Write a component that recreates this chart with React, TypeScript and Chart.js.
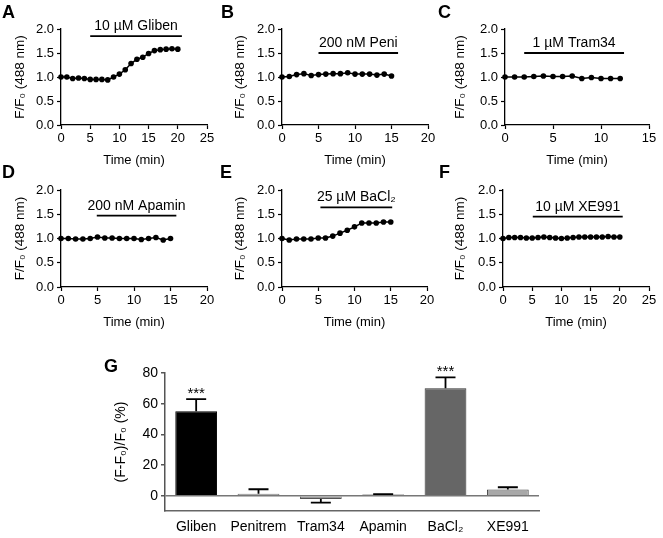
import React, { useEffect, useRef } from "react";
import { Chart, registerables } from "chart.js";
Chart.register(...registerables);

const FONT = "'Liberation Sans', Arial, Helvetica, sans-serif";

// ---------- Data: time courses (F/F0 at 488 nm) ----------
const timeA = [0, 1, 2, 3, 4, 5, 6, 7, 8, 9, 10, 11, 12, 13, 14, 15, 16, 17, 18, 19, 20];
const valueA = [1.0, 1.0, 0.97, 0.98, 0.97, 0.95, 0.95, 0.95, 0.94, 1.0, 1.06, 1.15, 1.28, 1.37, 1.41, 1.49, 1.55, 1.57, 1.58, 1.59, 1.58];

const timeB = [0, 1, 2, 3, 4, 5, 6, 7, 8, 9, 10, 11, 12, 13, 14, 15];
const valueB = [1.0, 1.01, 1.05, 1.07, 1.03, 1.05, 1.06, 1.07, 1.07, 1.09, 1.06, 1.06, 1.06, 1.04, 1.06, 1.02];

const timeC = [0, 1, 2, 3, 4, 5, 6, 7, 8, 9, 10, 11, 12];
const valueC = [1.0, 1.0, 1.0, 1.01, 1.02, 1.01, 1.01, 1.02, 0.97, 0.99, 0.97, 0.97, 0.97];

const timeD = [0, 1, 2, 3, 4, 5, 6, 7, 8, 9, 10, 11, 12, 13, 14, 15];
const valueD = [1.0, 1.0, 0.99, 0.99, 1.0, 1.03, 1.01, 1.01, 1.0, 1.0, 1.0, 0.98, 1.0, 1.02, 0.97, 1.0];

const timeE = [0, 1, 2, 3, 4, 5, 6, 7, 8, 9, 10, 11, 12, 13, 14, 15];
const valueE = [1.0, 0.97, 0.99, 0.99, 0.99, 1.01, 1.01, 1.05, 1.11, 1.17, 1.24, 1.32, 1.32, 1.32, 1.34, 1.34];

const timeF = [0, 1, 2, 3, 4, 5, 6, 7, 8, 9, 10, 11, 12, 13, 14, 15, 16, 17, 18, 19, 20];
const valueF = [1.0, 1.02, 1.02, 1.02, 1.01, 1.01, 1.02, 1.03, 1.02, 1.01, 1.0, 1.01, 1.02, 1.03, 1.03, 1.03, 1.03, 1.03, 1.04, 1.03, 1.03];

// x-axis maxima (min)
const xMaxes = [25, 20, 15, 20, 20, 25];

// drug application bars: label, start (min), end (min), level (F/F0)
const drugLabels = ["10 µM Gliben", "200 nM Peni", "1 µM Tram34", "200 nM Apamin", "25 µM BaCl₂", "10 µM XE991"];
const drugStart = [5, 5, 2, 4.9, 5.3, 5.1];
const drugEnd = [20.7, 15.9, 12.4, 15.8, 15.2, 20.5];
const drugLevel = [1.85, 1.5, 1.5, 1.47, 1.64, 1.45];

const traceYTicks = [0, 0.5, 1.0, 1.5, 2.0];

// ---------- Data: summary bar chart (G) ----------
const categoriesG = ["Gliben", "Penitrem", "Tram34", "Apamin", "BaCl₂", "XE991"];
const meansG = [55, 1.2, -2.2, 0.7, 70, 4];
const semG = [8, 3, 2.3, 0.3, 7.2, 1.5];
const sigG = ["***", "", "", "", "***", ""];
const barFill = ["#000000", "#9a9a9a", "#9a9a9a", "#222222", "#666666", "#a8a8a8"];
const barBorder = ["#000000", "#555555", "#555555", "#000000", "#333333", "#444444"];

// ---------- Layout (page pixels) ----------
type Box = { left: number; top: number; width: number; height: number };
type Area = { l: number; r: number; t: number; b: number };

const traceBoxes: Box[] = [
  { left: 0, top: 0, width: 220, height: 168 },
  { left: 220, top: 0, width: 220, height: 168 },
  { left: 440, top: 0, width: 223, height: 168 },
  { left: 0, top: 165, width: 220, height: 165 },
  { left: 220, top: 165, width: 220, height: 165 },
  { left: 440, top: 165, width: 223, height: 165 },
];
const traceAreas: Area[] = [
  { l: 61, r: 207, t: 29, b: 125 },
  { l: 282, r: 428, t: 29, b: 125 },
  { l: 505, r: 649, t: 29, b: 125 },
  { l: 61, r: 207, t: 190, b: 287 },
  { l: 282, r: 427, t: 190, b: 287 },
  { l: 503, r: 649, t: 190, b: 287 },
];
const boxG: Box = { left: 0, top: 336, width: 663, height: 202 };
const areaG: Area = { l: 165, r: 539, t: 373, b: 511 };

const letters = ["A", "B", "C", "D", "E", "F", "G"];
const letterPos = [
  { left: 2, top: 3 },
  { left: 221, top: 3 },
  { left: 438, top: 3 },
  { left: 2, top: 163 },
  { left: 220, top: 163 },
  { left: 439, top: 163 },
  { left: 104, top: 357 },
];

const traceTimes = [timeA, timeB, timeC, timeD, timeE, timeF];
const traceValues = [valueA, valueB, valueC, valueD, valueE, valueF];

// ---------- Plugins ----------
const drugBarPlugin = {
  id: "drugBar",
  afterDatasetsDraw(chart: any, _args: any, opts: any) {
    if (!opts || !opts.text) return;
    const { ctx } = chart;
    const x = chart.scales.x;
    const y = chart.scales.y;
    const x0 = x.getPixelForValue(opts.start);
    const x1 = x.getPixelForValue(opts.end);
    const yy = y.getPixelForValue(opts.level);
    ctx.save();
    ctx.strokeStyle = "#000";
    ctx.lineWidth = 1.8;
    ctx.beginPath();
    ctx.moveTo(x0, yy);
    ctx.lineTo(x1, yy);
    ctx.stroke();
    ctx.font = `14px ${FONT}`;
    ctx.fillStyle = "#000";
    ctx.textAlign = "center";
    ctx.textBaseline = "alphabetic";
    ctx.fillText(opts.text, (x0 + x1) / 2, yy - 6);
    ctx.restore();
  },
};

const errorBarPlugin = {
  id: "errorBars",
  afterDatasetsDraw(chart: any, _args: any, opts: any) {
    const meta = chart.getDatasetMeta(0);
    const y = chart.scales.y;
    const { ctx } = chart;
    ctx.save();
    meta.data.forEach((bar: any, i: number) => {
      const m = opts.means[i];
      const e = opts.errors[i];
      const dir = m >= 0 ? 1 : -1;
      const yv = y.getPixelForValue(m);
      const ye = y.getPixelForValue(m + dir * e);
      ctx.strokeStyle = "#000";
      ctx.lineWidth = 1.8;
      ctx.beginPath();
      ctx.moveTo(bar.x, yv);
      ctx.lineTo(bar.x, ye);
      ctx.moveTo(bar.x - 10, ye);
      ctx.lineTo(bar.x + 10, ye);
      ctx.stroke();
      const s = opts.sig[i];
      if (s) {
        ctx.font = `15px ${FONT}`;
        ctx.fillStyle = "#000";
        ctx.textAlign = "center";
        ctx.textBaseline = "alphabetic";
        ctx.fillText(s, bar.x, ye - 1);
      }
    });
    ctx.restore();
  },
};

function traceConfig(i: number): any {
  const box = traceBoxes[i];
  const area = traceAreas[i];
  const times = traceTimes[i];
  const vals = traceValues[i];
  const axisGrid = {
    drawOnChartArea: false,
    drawTicks: true,
    tickLength: 4,
    tickColor: "#000",
    tickWidth: 1.2,
  };
  return {
    type: "line",
    data: {
      datasets: [
        {
          data: times.map((t, k) => ({ x: t, y: vals[k] })),
          borderColor: "#000",
          backgroundColor: "#000",
          borderWidth: 1.5,
          pointRadius: 2.8,
          pointBorderWidth: 0,
          pointBackgroundColor: "#000",
          tension: 0,
          clip: false,
        },
      ],
    },
    options: {
      animation: false,
      responsive: false,
      maintainAspectRatio: false,
      events: [],
      layout: {
        padding: {
          top: area.t - box.top,
          right: box.left + box.width - area.r,
          left: 0,
          bottom: 0,
        },
      },
      plugins: {
        legend: { display: false },
        tooltip: { enabled: false },
        drugBar: {
          text: drugLabels[i],
          start: drugStart[i],
          end: drugEnd[i],
          level: drugLevel[i],
        },
      },
      scales: {
        x: {
          type: "linear",
          min: 0,
          max: xMaxes[i],
          ticks: {
            stepSize: 5,
            color: "#000",
            font: { family: FONT, size: 13 },
            padding: 2,
            maxRotation: 0,
          },
          grid: axisGrid,
          border: { color: "#000", width: 1.3 },
          title: {
            display: true,
            text: "Time (min)",
            color: "#000",
            font: { family: FONT, size: 13 },
            padding: { top: 0, bottom: 0 },
          },
          afterFit: (s: any) => {
            s.height = box.top + box.height - area.b;
          },
        },
        y: {
          type: "linear",
          min: 0,
          max: 2,
          afterBuildTicks: (s: any) => {
            s.ticks = traceYTicks.map((v) => ({ value: v }));
          },
          ticks: {
            color: "#000",
            font: { family: FONT, size: 13 },
            padding: 3,
            callback: (v: any) => Number(v).toFixed(1),
          },
          grid: axisGrid,
          border: { color: "#000", width: 1.3 },
          title: {
            display: true,
            text: "F/F₀ (488 nm)",
            color: "#000",
            font: { family: FONT, size: 13.5 },
            padding: { top: 12, bottom: 0 },
          },
          afterFit: (s: any) => {
            s.width = area.l - box.left;
          },
        },
      },
    },
    plugins: [drugBarPlugin],
  };
}

function barConfig(): any {
  const box = boxG;
  const area = areaG;
  return {
    type: "bar",
    data: {
      labels: categoriesG,
      datasets: [
        {
          data: meansG,
          backgroundColor: barFill,
          borderColor: barBorder,
          borderWidth: 1,
          barPercentage: 0.67,
          categoryPercentage: 1,
        },
      ],
    },
    options: {
      animation: false,
      responsive: false,
      maintainAspectRatio: false,
      events: [],
      layout: {
        padding: {
          top: area.t - box.top,
          right: box.left + box.width - area.r,
          left: 0,
          bottom: 0,
        },
      },
      plugins: {
        legend: { display: false },
        tooltip: { enabled: false },
        errorBars: { means: meansG, errors: semG, sig: sigG },
      },
      scales: {
        x: {
          grid: { display: true, drawOnChartArea: false, drawTicks: false },
          border: { color: "#666", width: 1.5 },
          ticks: {
            color: "#000",
            font: { family: FONT, size: 14 },
            padding: 8,
            maxRotation: 0,
          },
          afterFit: (s: any) => {
            s.height = box.top + box.height - area.b;
          },
        },
        y: {
          min: -10,
          max: 80,
          ticks: {
            stepSize: 20,
            color: "#000",
            font: { family: FONT, size: 14 },
            padding: 3,
          },
          afterBuildTicks: (s: any) => {
            s.ticks = s.ticks.filter((t: any) => t.value >= 0);
          },
          grid: {
            drawOnChartArea: true,
            drawTicks: true,
            tickLength: 4,
            tickColor: "#555",
            lineWidth: 1.5,
            color: (c: any) => (c.tick && c.tick.value === 0 ? "#777" : "rgba(0,0,0,0)"),
          },
          border: { color: "#555", width: 1.5 },
          title: {
            display: true,
            text: "(F-F₀)/F₀ (%)",
            color: "#000",
            font: { family: FONT, size: 14 },
            padding: { top: 113, bottom: 0 },
          },
          afterFit: (s: any) => {
            s.width = area.l - box.left;
          },
        },
      },
    },
    plugins: [errorBarPlugin],
  };
}

function ChartCanvas({ box, makeConfig }: { box: Box; makeConfig: () => any }) {
  const ref = useRef<HTMLCanvasElement | null>(null);
  useEffect(() => {
    if (!ref.current) return;
    const chart = new Chart(ref.current, makeConfig());
    return () => chart.destroy();
  }, []);
  return (
    <canvas
      ref={ref}
      width={box.width}
      height={box.height}
      style={{
        position: "absolute",
        left: box.left,
        top: box.top,
        width: box.width,
        height: box.height,
      }}
    />
  );
}

export default function App() {
  return (
    <div
      style={{
        position: "absolute",
        left: 0,
        top: 0,
        width: 663,
        height: 538,
        background: "#fff",
        overflow: "hidden",
      }}
    >
      {traceBoxes.map((b, i) => (
        <ChartCanvas key={i} box={b} makeConfig={() => traceConfig(i)} />
      ))}
      <ChartCanvas box={boxG} makeConfig={barConfig} />
      {letters.map((L, i) => (
        <div
          key={L}
          style={{
            position: "absolute",
            left: letterPos[i].left,
            top: letterPos[i].top,
            font: `bold 18px ${FONT}`,
            lineHeight: "18px",
            color: "#000",
          }}
        >
          {L}
        </div>
      ))}
    </div>
  );
}
